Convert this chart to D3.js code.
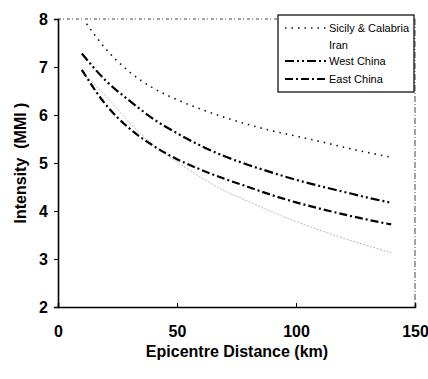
<!DOCTYPE html>
<html><head><meta charset="utf-8">
<script src="https://cdn.jsdelivr.net/npm/d3@7"></script>
<style>
html,body{margin:0;padding:0;background:#fff;overflow:hidden}
text{font-family:"Liberation Sans Narrow","Arial Narrow","Liberation Sans",Arial,sans-serif}
</style></head><body>
<script>
const distances = [10, 20, 30, 40, 50, 60, 70, 80, 90, 100, 110, 120, 130, 140];
const sicilyDist = [12, 20, 30, 40, 50, 60, 70, 80, 90, 100, 110, 120, 130, 140];
const sicily = [7.9, 7.38, 6.9, 6.56, 6.32, 6.12, 5.95, 5.8, 5.67, 5.56, 5.45, 5.33, 5.22, 5.12];
const iran = [6.9, 6.4, 5.85, 5.38, 5.02, 4.7, 4.42, 4.2, 3.98, 3.78, 3.6, 3.43, 3.28, 3.13];
const westChina = [7.28, 6.72, 6.3, 5.92, 5.62, 5.36, 5.14, 4.96, 4.8, 4.65, 4.52, 4.4, 4.28, 4.17];
const eastChina = [6.94, 6.22, 5.72, 5.36, 5.08, 4.86, 4.67, 4.5, 4.33, 4.18, 4.05, 3.93, 3.82, 3.72];
const xTicks = [0, 50, 100, 150];
const yTicks = [2, 3, 4, 5, 6, 7, 8];
const seriesNames = ["Sicily & Calabria", "Iran", "West China", "East China"];

const W = 428, H = 379;
const svg = d3.select("body").append("svg").attr("width", W).attr("height", H);
const x = d3.scaleLinear().domain([0, 150]).range([58, 415]);
const y = d3.scaleLinear().domain([2, 8]).range([307, 19]);

// frame: top and right dotted
svg.append("line").attr("x1", x(0)).attr("x2", x(150)).attr("y1", y(8)).attr("y2", y(8))
  .attr("stroke", "#444").attr("stroke-width", 1).attr("stroke-dasharray", "3,2,1,3");
svg.append("line").attr("x1", x(150)).attr("x2", x(150)).attr("y1", y(8)).attr("y2", y(2))
  .attr("stroke", "#444").attr("stroke-width", 1).attr("stroke-dasharray", "6,2,1,2");

// axes
const yAxis = svg.append("g").attr("transform", `translate(${x(0)},0)`)
  .call(d3.axisLeft(y).tickValues(yTicks).tickSize(4).tickPadding(6).tickFormat(d3.format("d")));
const xAxis = svg.append("g").attr("transform", `translate(0,${y(2)})`)
  .call(d3.axisBottom(x).tickValues(xTicks).tickSize(-4).tickPadding(19).tickFormat(d3.format("d")));
[yAxis, xAxis].forEach(g => {
  g.select(".domain").attr("stroke", "#000").attr("stroke-width", 1.6);
  g.selectAll(".tick line").attr("stroke", "#000").attr("stroke-width", 1);
  g.selectAll("text").attr("fill", "#000").attr("font-size", 16).attr("font-weight", "bold");
});

// titles
svg.append("text").attr("x", 237).attr("y", 357).attr("text-anchor", "middle")
  .attr("font-size", 16).attr("font-weight", "bold").text("Epicentre Distance (km)");
svg.append("text").attr("transform", `translate(26,${163}) rotate(-90)`).attr("text-anchor", "middle")
  .attr("font-size", 16).attr("font-weight", "bold").attr("xml:space", "preserve").text("Intensity  (MMI )");

const styles = [
  {dash: "1.5,5", w: 1.6, c: "#111"},
  {dash: "2,1.5", w: 0.7, c: "#999"},
  {dash: "9,3,2,3,2,3", w: 2.2, c: "#000"},
  {dash: "8,3,2,3", w: 2.2, c: "#000"}
];
const data = [
  sicilyDist.map((d, i) => [d, sicily[i]]),
  distances.map((d, i) => [d, iran[i]]),
  distances.map((d, i) => [d, westChina[i]]),
  distances.map((d, i) => [d, eastChina[i]])
];
const line = d3.line().x(d => x(d[0])).y(d => y(d[1])).curve(d3.curveMonotoneX);
data.forEach((s, i) => {
  svg.append("path").datum(s).attr("d", line).attr("fill", "none")
    .attr("stroke", styles[i].c).attr("stroke-width", styles[i].w)
    .attr("stroke-dasharray", styles[i].dash);
});

// legend
const lg = svg.append("g");
lg.append("rect").attr("x", 278).attr("y", 15).attr("width", 136).attr("height", 77)
  .attr("fill", "#fff").attr("stroke", "#000").attr("stroke-width", 1.2);
const rowsY = [28, 45, 61, 79];
seriesNames.forEach((n, i) => {
  if (i !== 1) {
    lg.append("line").attr("x1", 285).attr("x2", 327).attr("y1", rowsY[i]).attr("y2", rowsY[i])
      .attr("stroke", styles[i].c).attr("stroke-width", styles[i].w).attr("stroke-dasharray", styles[i].dash);
  }
  lg.append("text").attr("x", 329).attr("y", rowsY[i] + 4).attr("font-size", 11)
    .attr("fill", "#000").text(n);
});
</script>
</body></html>
